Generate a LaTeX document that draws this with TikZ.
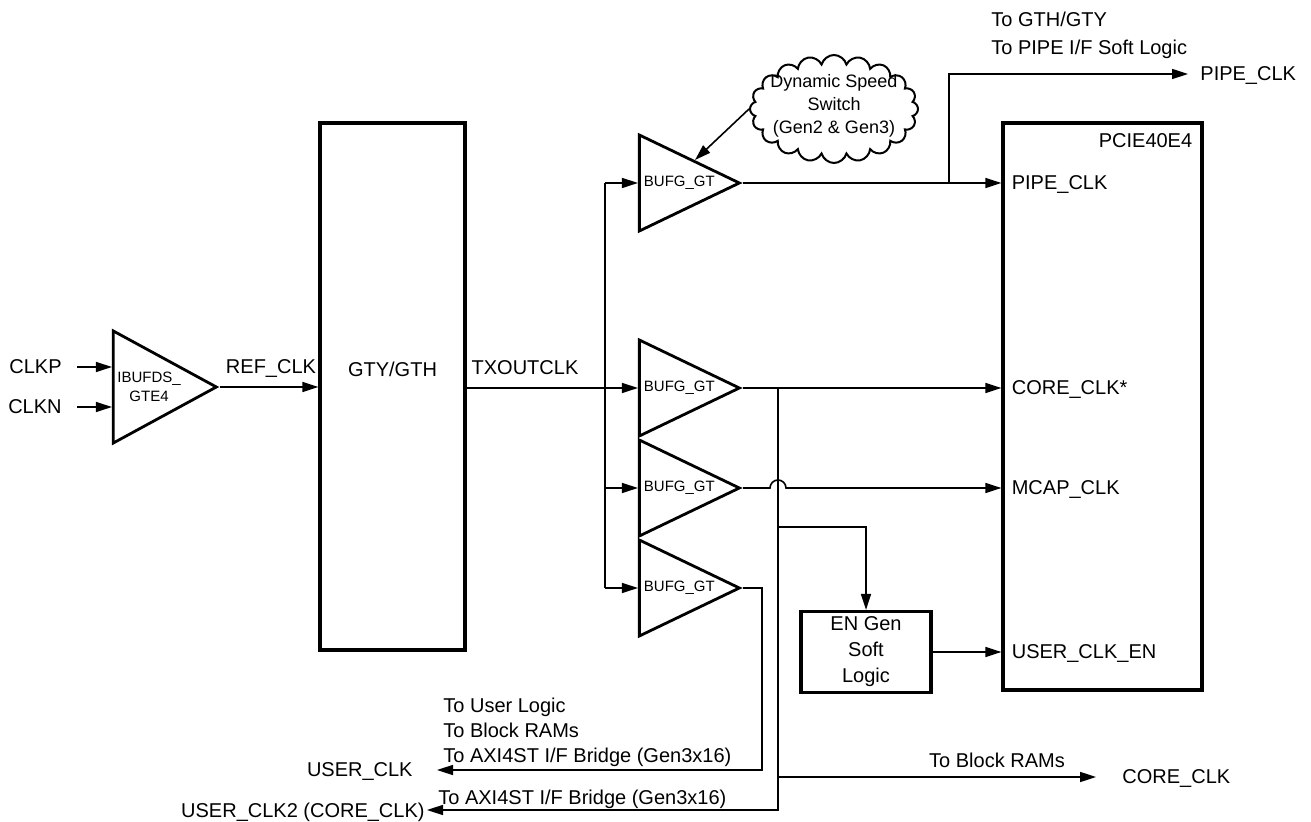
\documentclass[tikz,border=0pt]{standalone}
\usepackage{fontspec}
\setmainfont{Liberation Sans}
\usetikzlibrary{positioning}
\usetikzlibrary{shapes.geometric, shapes.symbols, arrows.meta}

\begin{document}
\begin{tikzpicture}[x=0.5pt,y=-0.5pt,>={Triangle[length=8pt,width=5pt]}]
    \tikzset{sig/.style = {inner sep=0pt, text depth=0pt,
                           font=\fontsize{10}{12.5}\selectfont}}
    \tikzset{block/.style = {rectangle, draw=black, line width=1.6pt,
                             inner sep=0pt, font=\fontsize{10}{13}\selectfont}}
    \tikzset{buf/.style = {isosceles triangle, isosceles triangle stretches,
                           draw=black, line width=1.4pt, inner sep=0pt,
                           minimum width=48pt, minimum height=50pt, anchor=apex,
                           align=center, font=\fontsize{7.5}{9.5}\selectfont}}
    \tikzset{wire/.style = {line width=0.8pt}}

    \useasboundingbox (0,0) rectangle (1311,822);

    % input side
    \node (ibuf) [buf, minimum width=56pt, minimum height=51.5pt] at (220,387) {IBUFDS\_\\GTE4};
    \node (clkp) [sig, anchor=east, inner xsep=7.5pt] at (77,367) {CLKP};
    \node (clkn) [sig, anchor=east, inner xsep=7.5pt] at (77,407) {CLKN};
    \node (gty) [block, minimum width=72.5pt, minimum height=263.5pt] at (392.5,386.5) {};
    \node (gtylbl) [sig] at (392.5,369) {GTY/GTH};
    \node (reflbl) [sig] at (271,367) {REF\_CLK};

    \draw[wire,->] (clkp) -- (ibuf.west |- clkp);
    \draw[wire,->] (clkn) -- (ibuf.west |- clkn);
    \draw[wire,->] (ibuf.apex) -- (gty.west |- ibuf.apex);

    % clock buffers
    \node (bufA) [buf] at (743,183) {BUFG\_GT};
    \node (bufB) [buf] at (743,388) {BUFG\_GT};
    \node (bufC) [buf] at (743,488) {BUFG\_GT};
    \node (bufD) [buf] at (743,588) {BUFG\_GT};
    \node (txlbl) [sig] at (525,368) {TXOUTCLK};
    \coordinate (bus) at (605,0);

    \draw[wire,->] (gty.east |- bufB.west) -- (bufB.west);
    \draw[wire] (bus |- bufA.west) -- (bus |- bufD.west);
    \draw[wire,->] (bus |- bufA.west) -- (bufA.west);
    \draw[wire,->] (bus |- bufC.west) -- (bufC.west);
    \draw[wire,->] (bus |- bufD.west) -- (bufD.west);

    \node (dss) [cloud, draw, cloud puffs=20, line width=1pt, inner sep=0pt,
                 minimum width=84pt, minimum height=54pt] at (834,109) {};
    \node (dsslbl) [align=center, inner sep=0pt, font=\fontsize{9}{11.5}\selectfont]
          at (834,106) {Dynamic Speed\\Switch\\(Gen2 \& Gen3)};
    \coordinate (dsshit) at (695,160);
    \draw[wire,->] (dss.west) -- (dsshit);

    % hard block
    \node (pcie) [block, minimum width=99.5pt, minimum height=283.5pt] at (1102.5,406.5) {};
    \node (pcielbl) [sig, anchor=north east] at ([xshift=-5.5pt,yshift=-6pt]pcie.north east) {PCIE40E4};
    \node (engen) [block, minimum width=65pt, minimum height=40.5pt, align=center] at (866,652) {EN Gen\\Soft\\Logic};

    \node (pipein) [sig, anchor=west, inner xsep=5pt] at (pcie.west |- bufA.apex) {PIPE\_CLK};
    \node (corein) [sig, anchor=west, inner xsep=5pt] at (pcie.west |- bufB.apex) {CORE\_CLK*};
    \node (mcapin) [sig, anchor=west, inner xsep=5pt] at (pcie.west |- bufC.apex) {MCAP\_CLK};
    \node (userenin) [sig, anchor=west, inner xsep=5pt] at (pcie.west |- engen.east) {USER\_CLK\_EN};

    % outputs
    \node (pipeout) [sig, anchor=west, inner xsep=6pt] at (1188,74) {PIPE\_CLK};
    \node (pipenote) [sig, anchor=west, align=left, font=\fontsize{10}{14}\selectfont] at (991,33) {To GTH/GTY\\To PIPE I/F Soft Logic};
    \node (userclk) [sig, anchor=east, inner xsep=12pt] at (437,770) {USER\_CLK};
    \node (usernote) [sig, anchor=west, align=left] at (443,730) {To User Logic\\To Block RAMs\\To AXI4ST I/F Bridge (Gen3x16)};
    \node (userclk2) [sig, anchor=east, inner xsep=1pt] at (427,810) {USER\_CLK2 (CORE\_CLK)};
    \node (user2note) [sig, anchor=west] at (438,797) {To AXI4ST I/F Bridge (Gen3x16)};
    \node (coreclk) [sig, anchor=west, inner xsep=13pt] at (1096,777) {CORE\_CLK};
    \node (bramnote) [sig] at (997,760) {To Block RAMs};

    \coordinate (pipetap) at (949,183);
    \coordinate (coretap) at (778,388);
    \coordinate (entap) at (778,527);
    \coordinate (bramtap) at (778,777);

    \draw[wire,->] (bufA.apex) -- (pipein.west);
    \draw[wire,->] (pipetap) |- (pipeout.west);
    \draw[wire,->] (bufB.apex) -- (corein.west);
    \draw[wire,->] (coretap) |- (userclk2.east);
    \draw[wire,->] (bramtap) -- (coreclk.west);
    \draw[wire,->] (entap) -| (engen.north);
    \draw[wire,->] (bufC.apex) -- (770,488) arc (180:0:4pt) -- (mcapin.west);
    \draw[wire,->] (engen.east) -- (userenin.west);
    \draw[wire,->] (bufD.apex) -- ++(19,0) |- (userclk.east);

\end{tikzpicture}
\end{document}
